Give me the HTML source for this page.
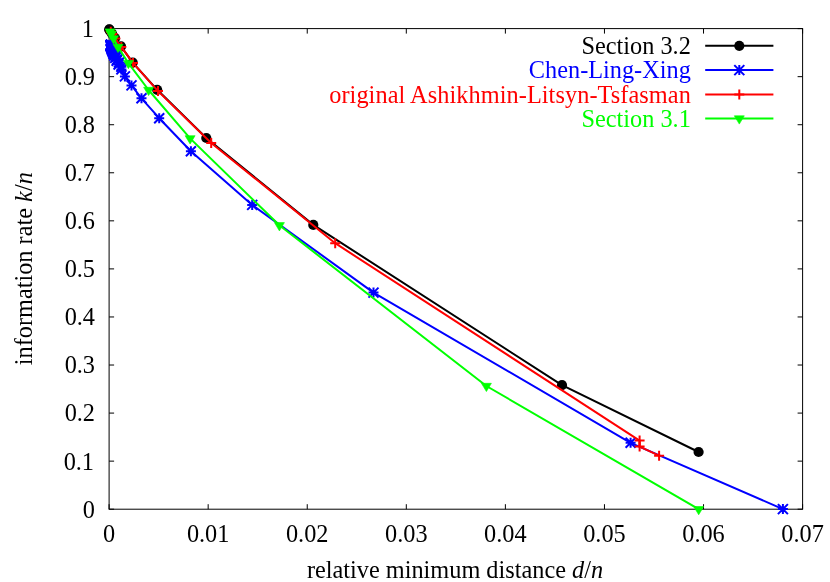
<!DOCTYPE html>
<html><head><meta charset="utf-8"><title>plot</title>
<style>
html,body{margin:0;padding:0;background:#fff;}
svg{display:block;will-change:transform;}
text{font-family:"Liberation Serif",serif;font-size:24.3px;}
</style></head><body>
<svg width="830" height="582" viewBox="0 0 830 582">
<rect x="0" y="0" width="830" height="582" fill="#ffffff"/>
<g stroke="#000" stroke-width="1" fill="none">
<path d="M109.1 509.2v-5M109.1 28.6v5"/>
<path d="M208.17 509.2v-5M208.17 28.6v5"/>
<path d="M307.24 509.2v-5M307.24 28.6v5"/>
<path d="M406.31 509.2v-5M406.31 28.6v5"/>
<path d="M505.39 509.2v-5M505.39 28.6v5"/>
<path d="M604.46 509.2v-5M604.46 28.6v5"/>
<path d="M703.53 509.2v-5M703.53 28.6v5"/>
<path d="M802.6 509.2v-5M802.6 28.6v5"/>
<path d="M109.1 509.2h5M802.6 509.2h-5"/>
<path d="M109.1 461.14h5M802.6 461.14h-5"/>
<path d="M109.1 413.08h5M802.6 413.08h-5"/>
<path d="M109.1 365.02h5M802.6 365.02h-5"/>
<path d="M109.1 316.96h5M802.6 316.96h-5"/>
<path d="M109.1 268.9h5M802.6 268.9h-5"/>
<path d="M109.1 220.84h5M802.6 220.84h-5"/>
<path d="M109.1 172.78h5M802.6 172.78h-5"/>
<path d="M109.1 124.72h5M802.6 124.72h-5"/>
<path d="M109.1 76.66h5M802.6 76.66h-5"/>
<path d="M109.1 28.6h5M802.6 28.6h-5"/>
<rect x="109.1" y="28.6" width="693.5" height="480.6"/>
</g>
<text x="109.1" y="541.6" text-anchor="middle">0</text>
<text x="208.17" y="541.6" text-anchor="middle">0.01</text>
<text x="307.24" y="541.6" text-anchor="middle">0.02</text>
<text x="406.31" y="541.6" text-anchor="middle">0.03</text>
<text x="505.39" y="541.6" text-anchor="middle">0.04</text>
<text x="604.46" y="541.6" text-anchor="middle">0.05</text>
<text x="703.53" y="541.6" text-anchor="middle">0.06</text>
<text x="802.6" y="541.6" text-anchor="middle">0.07</text>
<text x="95" y="517.6" text-anchor="end">0</text>
<text x="94" y="469.54" text-anchor="end">0.1</text>
<text x="95" y="421.48" text-anchor="end">0.2</text>
<text x="95" y="373.42" text-anchor="end">0.3</text>
<text x="95" y="325.36" text-anchor="end">0.4</text>
<text x="95" y="277.3" text-anchor="end">0.5</text>
<text x="95" y="229.24" text-anchor="end">0.6</text>
<text x="95" y="181.18" text-anchor="end">0.7</text>
<text x="95" y="133.12" text-anchor="end">0.8</text>
<text x="95" y="85.06" text-anchor="end">0.9</text>
<text x="94" y="37" text-anchor="end">1</text>
<text x="455" y="577.8" text-anchor="middle">relative minimum distance <tspan font-style="italic">d</tspan>/<tspan font-style="italic">n</tspan></text>
<text transform="translate(32.1,268.7) rotate(-90)" text-anchor="middle">information rate <tspan font-style="italic">k</tspan>/<tspan font-style="italic">n</tspan></text>
<text x="690.8" y="53.9" text-anchor="end" fill="#000000">Section 3.2</text>
<text x="690.8" y="78.2" text-anchor="end" fill="#0000ff">Chen-Ling-Xing</text>
<text x="690.8" y="102.5" text-anchor="end" fill="#ff0000" textLength="361.6" lengthAdjust="spacing">original Ashikhmin-Litsyn-Tsfasman</text>
<text x="690.8" y="126.6" text-anchor="end" fill="#00ff00">Section 3.1</text>
<g>
<path d="M705.2 45.8H773.4" stroke="#000000" stroke-width="2" fill="none"/>
<circle cx="739.3" cy="45.8" r="5.1" fill="#000000"/>
<polyline fill="none" stroke="#000000" stroke-width="2" stroke-linejoin="round" stroke-linecap="butt" points="698.6,452 562,385.1 313.3,224.9 206.3,138 157.2,89.8 132.7,62.6 121,46.4 115.05,38.17 112.07,33.82 110.59,31.51 109.84,30.28 109.47,29.63 109.29,29.29"/>
<circle cx="698.6" cy="452" r="5.1" fill="#000000"/>
<circle cx="562" cy="385.1" r="5.1" fill="#000000"/>
<circle cx="313.3" cy="224.9" r="5.1" fill="#000000"/>
<circle cx="206.3" cy="138" r="5.1" fill="#000000"/>
<circle cx="157.2" cy="89.8" r="5.1" fill="#000000"/>
<circle cx="132.7" cy="62.6" r="5.1" fill="#000000"/>
<circle cx="121" cy="46.4" r="5.1" fill="#000000"/>
<circle cx="115.05" cy="38.17" r="5.1" fill="#000000"/>
<circle cx="112.07" cy="33.82" r="5.1" fill="#000000"/>
<circle cx="110.59" cy="31.51" r="5.1" fill="#000000"/>
<circle cx="109.84" cy="30.28" r="5.1" fill="#000000"/>
<circle cx="109.47" cy="29.63" r="5.1" fill="#000000"/>
<circle cx="109.29" cy="29.29" r="5.1" fill="#000000"/>
</g>
<g>
<path d="M705.2 70.1H773.4" stroke="#0000ff" stroke-width="2" fill="none"/>
<path d="M734.3 70.1h10M739.3 65.1v10M734.3 65.1l10 10M734.3 75.1l10 -10" stroke="#0000ff" stroke-width="2" fill="none"/>
<polyline fill="none" stroke="#0000ff" stroke-width="2" stroke-linejoin="round" stroke-linecap="butt" points="782.9,509.1 630.6,442.8 373.5,292.6 252.2,204.9 190.9,151.2 159.2,118.2 141.5,98.3 131.5,85.4 124.9,76.4 121.41,69.38 121.36,66.73 118.57,64.44 119.01,62.45 116.61,60.72 117.36,59.2 115.23,57.87 116.19,56.69 114.23,55.64 115.34,54.71 113.5,53.88 114.7,53.13 112.94,52.47 114.22,51.86 112.53,51.32 113.86,50.82 112.2,50.38 113.57,49.97 111.95,49.6 113.35,49.26 111.76,48.95 113.17,48.66 111.6,48.4 113.03,48.16 111.47,47.93 112.92,47.73 111.37,47.54 112.82,47.36 111.28,47.2 112.75,47.04 111.22,46.9 112.69,46.77 111.16,46.65 112.63,46.53 111.11,46.42 112.59,46.32 111.07,46.23 112.55,46.14 111.04,46.06 112.52,45.98 111.01,45.9 112.49,45.83 110.98,45.77 110.96,45.65 110.94,45.54 110.93,45.44 110.91,45.36 110.9,45.28 110.89,45.21 110.88,45.15 110.87,45.09 110.87,45.04 110.86,44.99 110.86,44.94 110.85,44.9 110.85,44.87 110.84,44.83"/>
<path d="M777.9 509.1h10M782.9 504.1v10M777.9 504.1l10 10M777.9 514.1l10 -10" stroke="#0000ff" stroke-width="2" fill="none"/>
<path d="M625.6 442.8h10M630.6 437.8v10M625.6 437.8l10 10M625.6 447.8l10 -10" stroke="#0000ff" stroke-width="2" fill="none"/>
<path d="M368.5 292.6h10M373.5 287.6v10M368.5 287.6l10 10M368.5 297.6l10 -10" stroke="#0000ff" stroke-width="2" fill="none"/>
<path d="M247.2 204.9h10M252.2 199.9v10M247.2 199.9l10 10M247.2 209.9l10 -10" stroke="#0000ff" stroke-width="2" fill="none"/>
<path d="M185.9 151.2h10M190.9 146.2v10M185.9 146.2l10 10M185.9 156.2l10 -10" stroke="#0000ff" stroke-width="2" fill="none"/>
<path d="M154.2 118.2h10M159.2 113.2v10M154.2 113.2l10 10M154.2 123.2l10 -10" stroke="#0000ff" stroke-width="2" fill="none"/>
<path d="M136.5 98.3h10M141.5 93.3v10M136.5 93.3l10 10M136.5 103.3l10 -10" stroke="#0000ff" stroke-width="2" fill="none"/>
<path d="M126.5 85.4h10M131.5 80.4v10M126.5 80.4l10 10M126.5 90.4l10 -10" stroke="#0000ff" stroke-width="2" fill="none"/>
<path d="M119.9 76.4h10M124.9 71.4v10M119.9 71.4l10 10M119.9 81.4l10 -10" stroke="#0000ff" stroke-width="2" fill="none"/>
<path d="M116.41 69.38h10M121.41 64.38v10M116.41 64.38l10 10M116.41 74.38l10 -10" stroke="#0000ff" stroke-width="2" fill="none"/>
<path d="M116.36 66.73h10M121.36 61.73v10M116.36 61.73l10 10M116.36 71.73l10 -10" stroke="#0000ff" stroke-width="2" fill="none"/>
<path d="M113.57 64.44h10M118.57 59.44v10M113.57 59.44l10 10M113.57 69.44l10 -10" stroke="#0000ff" stroke-width="2" fill="none"/>
<path d="M114.01 62.45h10M119.01 57.45v10M114.01 57.45l10 10M114.01 67.45l10 -10" stroke="#0000ff" stroke-width="2" fill="none"/>
<path d="M111.61 60.72h10M116.61 55.72v10M111.61 55.72l10 10M111.61 65.72l10 -10" stroke="#0000ff" stroke-width="2" fill="none"/>
<path d="M112.36 59.2h10M117.36 54.2v10M112.36 54.2l10 10M112.36 64.2l10 -10" stroke="#0000ff" stroke-width="2" fill="none"/>
<path d="M110.23 57.87h10M115.23 52.87v10M110.23 52.87l10 10M110.23 62.87l10 -10" stroke="#0000ff" stroke-width="2" fill="none"/>
<path d="M111.19 56.69h10M116.19 51.69v10M111.19 51.69l10 10M111.19 61.69l10 -10" stroke="#0000ff" stroke-width="2" fill="none"/>
<path d="M109.23 55.64h10M114.23 50.64v10M109.23 50.64l10 10M109.23 60.64l10 -10" stroke="#0000ff" stroke-width="2" fill="none"/>
<path d="M110.34 54.71h10M115.34 49.71v10M110.34 49.71l10 10M110.34 59.71l10 -10" stroke="#0000ff" stroke-width="2" fill="none"/>
<path d="M108.5 53.88h10M113.5 48.88v10M108.5 48.88l10 10M108.5 58.88l10 -10" stroke="#0000ff" stroke-width="2" fill="none"/>
<path d="M109.7 53.13h10M114.7 48.13v10M109.7 48.13l10 10M109.7 58.13l10 -10" stroke="#0000ff" stroke-width="2" fill="none"/>
<path d="M107.94 52.47h10M112.94 47.47v10M107.94 47.47l10 10M107.94 57.47l10 -10" stroke="#0000ff" stroke-width="2" fill="none"/>
<path d="M109.22 51.86h10M114.22 46.86v10M109.22 46.86l10 10M109.22 56.86l10 -10" stroke="#0000ff" stroke-width="2" fill="none"/>
<path d="M107.53 51.32h10M112.53 46.32v10M107.53 46.32l10 10M107.53 56.32l10 -10" stroke="#0000ff" stroke-width="2" fill="none"/>
<path d="M108.86 50.82h10M113.86 45.82v10M108.86 45.82l10 10M108.86 55.82l10 -10" stroke="#0000ff" stroke-width="2" fill="none"/>
<path d="M107.2 50.38h10M112.2 45.38v10M107.2 45.38l10 10M107.2 55.38l10 -10" stroke="#0000ff" stroke-width="2" fill="none"/>
<path d="M108.57 49.97h10M113.57 44.97v10M108.57 44.97l10 10M108.57 54.97l10 -10" stroke="#0000ff" stroke-width="2" fill="none"/>
<path d="M106.95 49.6h10M111.95 44.6v10M106.95 44.6l10 10M106.95 54.6l10 -10" stroke="#0000ff" stroke-width="2" fill="none"/>
<path d="M108.35 49.26h10M113.35 44.26v10M108.35 44.26l10 10M108.35 54.26l10 -10" stroke="#0000ff" stroke-width="2" fill="none"/>
<path d="M106.76 48.95h10M111.76 43.95v10M106.76 43.95l10 10M106.76 53.95l10 -10" stroke="#0000ff" stroke-width="2" fill="none"/>
<path d="M108.17 48.66h10M113.17 43.66v10M108.17 43.66l10 10M108.17 53.66l10 -10" stroke="#0000ff" stroke-width="2" fill="none"/>
<path d="M106.6 48.4h10M111.6 43.4v10M106.6 43.4l10 10M106.6 53.4l10 -10" stroke="#0000ff" stroke-width="2" fill="none"/>
<path d="M108.03 48.16h10M113.03 43.16v10M108.03 43.16l10 10M108.03 53.16l10 -10" stroke="#0000ff" stroke-width="2" fill="none"/>
<path d="M106.47 47.93h10M111.47 42.93v10M106.47 42.93l10 10M106.47 52.93l10 -10" stroke="#0000ff" stroke-width="2" fill="none"/>
<path d="M107.92 47.73h10M112.92 42.73v10M107.92 42.73l10 10M107.92 52.73l10 -10" stroke="#0000ff" stroke-width="2" fill="none"/>
<path d="M106.37 47.54h10M111.37 42.54v10M106.37 42.54l10 10M106.37 52.54l10 -10" stroke="#0000ff" stroke-width="2" fill="none"/>
<path d="M107.82 47.36h10M112.82 42.36v10M107.82 42.36l10 10M107.82 52.36l10 -10" stroke="#0000ff" stroke-width="2" fill="none"/>
<path d="M106.28 47.2h10M111.28 42.2v10M106.28 42.2l10 10M106.28 52.2l10 -10" stroke="#0000ff" stroke-width="2" fill="none"/>
<path d="M107.75 47.04h10M112.75 42.04v10M107.75 42.04l10 10M107.75 52.04l10 -10" stroke="#0000ff" stroke-width="2" fill="none"/>
<path d="M106.22 46.9h10M111.22 41.9v10M106.22 41.9l10 10M106.22 51.9l10 -10" stroke="#0000ff" stroke-width="2" fill="none"/>
<path d="M107.69 46.77h10M112.69 41.77v10M107.69 41.77l10 10M107.69 51.77l10 -10" stroke="#0000ff" stroke-width="2" fill="none"/>
<path d="M106.16 46.65h10M111.16 41.65v10M106.16 41.65l10 10M106.16 51.65l10 -10" stroke="#0000ff" stroke-width="2" fill="none"/>
<path d="M107.63 46.53h10M112.63 41.53v10M107.63 41.53l10 10M107.63 51.53l10 -10" stroke="#0000ff" stroke-width="2" fill="none"/>
<path d="M106.11 46.42h10M111.11 41.42v10M106.11 41.42l10 10M106.11 51.42l10 -10" stroke="#0000ff" stroke-width="2" fill="none"/>
<path d="M107.59 46.32h10M112.59 41.32v10M107.59 41.32l10 10M107.59 51.32l10 -10" stroke="#0000ff" stroke-width="2" fill="none"/>
<path d="M106.07 46.23h10M111.07 41.23v10M106.07 41.23l10 10M106.07 51.23l10 -10" stroke="#0000ff" stroke-width="2" fill="none"/>
<path d="M107.55 46.14h10M112.55 41.14v10M107.55 41.14l10 10M107.55 51.14l10 -10" stroke="#0000ff" stroke-width="2" fill="none"/>
<path d="M106.04 46.06h10M111.04 41.06v10M106.04 41.06l10 10M106.04 51.06l10 -10" stroke="#0000ff" stroke-width="2" fill="none"/>
<path d="M107.52 45.98h10M112.52 40.98v10M107.52 40.98l10 10M107.52 50.98l10 -10" stroke="#0000ff" stroke-width="2" fill="none"/>
<path d="M106.01 45.9h10M111.01 40.9v10M106.01 40.9l10 10M106.01 50.9l10 -10" stroke="#0000ff" stroke-width="2" fill="none"/>
<path d="M107.49 45.83h10M112.49 40.83v10M107.49 40.83l10 10M107.49 50.83l10 -10" stroke="#0000ff" stroke-width="2" fill="none"/>
<path d="M105.98 45.77h10M110.98 40.77v10M105.98 40.77l10 10M105.98 50.77l10 -10" stroke="#0000ff" stroke-width="2" fill="none"/>
<path d="M105.96 45.65h10M110.96 40.65v10M105.96 40.65l10 10M105.96 50.65l10 -10" stroke="#0000ff" stroke-width="2" fill="none"/>
<path d="M105.94 45.54h10M110.94 40.54v10M105.94 40.54l10 10M105.94 50.54l10 -10" stroke="#0000ff" stroke-width="2" fill="none"/>
<path d="M105.93 45.44h10M110.93 40.44v10M105.93 40.44l10 10M105.93 50.44l10 -10" stroke="#0000ff" stroke-width="2" fill="none"/>
<path d="M105.91 45.36h10M110.91 40.36v10M105.91 40.36l10 10M105.91 50.36l10 -10" stroke="#0000ff" stroke-width="2" fill="none"/>
<path d="M105.9 45.28h10M110.9 40.28v10M105.9 40.28l10 10M105.9 50.28l10 -10" stroke="#0000ff" stroke-width="2" fill="none"/>
<path d="M105.89 45.21h10M110.89 40.21v10M105.89 40.21l10 10M105.89 50.21l10 -10" stroke="#0000ff" stroke-width="2" fill="none"/>
<path d="M105.88 45.15h10M110.88 40.15v10M105.88 40.15l10 10M105.88 50.15l10 -10" stroke="#0000ff" stroke-width="2" fill="none"/>
<path d="M105.87 45.09h10M110.87 40.09v10M105.87 40.09l10 10M105.87 50.09l10 -10" stroke="#0000ff" stroke-width="2" fill="none"/>
<path d="M105.87 45.04h10M110.87 40.04v10M105.87 40.04l10 10M105.87 50.04l10 -10" stroke="#0000ff" stroke-width="2" fill="none"/>
<path d="M105.86 44.99h10M110.86 39.99v10M105.86 39.99l10 10M105.86 49.99l10 -10" stroke="#0000ff" stroke-width="2" fill="none"/>
<path d="M105.86 44.94h10M110.86 39.94v10M105.86 39.94l10 10M105.86 49.94l10 -10" stroke="#0000ff" stroke-width="2" fill="none"/>
<path d="M105.85 44.9h10M110.85 39.9v10M105.85 39.9l10 10M105.85 49.9l10 -10" stroke="#0000ff" stroke-width="2" fill="none"/>
<path d="M105.85 44.87h10M110.85 39.87v10M105.85 39.87l10 10M105.85 49.87l10 -10" stroke="#0000ff" stroke-width="2" fill="none"/>
<path d="M105.84 44.83h10M110.84 39.83v10M105.84 39.83l10 10M105.84 49.83l10 -10" stroke="#0000ff" stroke-width="2" fill="none"/>
</g>
<g>
<path d="M705.2 94.4H773.4" stroke="#ff0000" stroke-width="2" fill="none"/>
<path d="M734.3 94.4h10M739.3 89.4v10" stroke="#ff0000" stroke-width="2" fill="none"/>
<polyline fill="none" stroke="#ff0000" stroke-width="2" stroke-linejoin="round" stroke-linecap="butt" points="659.1,455.7 639.6,446.6 639.6,440.6 335.2,243.2 211.2,143 158,91.1 133,62.9 121.3,46.9 115.3,38.49 112.3,34.03 110.8,31.66"/>
<path d="M654.1 455.7h10M659.1 450.7v10" stroke="#ff0000" stroke-width="2" fill="none"/>
<path d="M634.6 446.6h10M639.6 441.6v10" stroke="#ff0000" stroke-width="2" fill="none"/>
<path d="M634.6 440.6h10M639.6 435.6v10" stroke="#ff0000" stroke-width="2" fill="none"/>
<path d="M330.2 243.2h10M335.2 238.2v10" stroke="#ff0000" stroke-width="2" fill="none"/>
<path d="M206.2 143h10M211.2 138v10" stroke="#ff0000" stroke-width="2" fill="none"/>
<path d="M153 91.1h10M158 86.1v10" stroke="#ff0000" stroke-width="2" fill="none"/>
<path d="M128 62.9h10M133 57.9v10" stroke="#ff0000" stroke-width="2" fill="none"/>
<path d="M116.3 46.9h10M121.3 41.9v10" stroke="#ff0000" stroke-width="2" fill="none"/>
<path d="M110.3 38.49h10M115.3 33.49v10" stroke="#ff0000" stroke-width="2" fill="none"/>
<path d="M107.3 34.03h10M112.3 29.03v10" stroke="#ff0000" stroke-width="2" fill="none"/>
<path d="M105.8 31.66h10M110.8 26.66v10" stroke="#ff0000" stroke-width="2" fill="none"/>
</g>
<g>
<path d="M705.2 118.5H773.4" stroke="#00ff00" stroke-width="2" fill="none"/>
<path d="M734.3 115.8L744.3 115.8L739.3 124.1Z" fill="#00ff00" stroke="#00ff00" stroke-width="0.6"/>
<polyline fill="none" stroke="#00ff00" stroke-width="2" stroke-linejoin="round" stroke-linecap="butt" points="698.7,509.2 486.4,386 279.4,225.3 190.1,138.4 148.6,90 128.4,63.1 118,47 113.5,38.49 111.25,33.98 110.12,31.59"/>
<path d="M693.7 506.5L703.7 506.5L698.7 514.8Z" fill="#00ff00" stroke="#00ff00" stroke-width="0.6"/>
<path d="M481.4 383.3L491.4 383.3L486.4 391.6Z" fill="#00ff00" stroke="#00ff00" stroke-width="0.6"/>
<path d="M274.4 222.6L284.4 222.6L279.4 230.9Z" fill="#00ff00" stroke="#00ff00" stroke-width="0.6"/>
<path d="M185.1 135.7L195.1 135.7L190.1 144Z" fill="#00ff00" stroke="#00ff00" stroke-width="0.6"/>
<path d="M143.6 87.3L153.6 87.3L148.6 95.6Z" fill="#00ff00" stroke="#00ff00" stroke-width="0.6"/>
<path d="M123.4 60.4L133.4 60.4L128.4 68.7Z" fill="#00ff00" stroke="#00ff00" stroke-width="0.6"/>
<path d="M113 44.3L123 44.3L118 52.6Z" fill="#00ff00" stroke="#00ff00" stroke-width="0.6"/>
<path d="M108.5 35.79L118.5 35.79L113.5 44.09Z" fill="#00ff00" stroke="#00ff00" stroke-width="0.6"/>
<path d="M106.25 31.28L116.25 31.28L111.25 39.58Z" fill="#00ff00" stroke="#00ff00" stroke-width="0.6"/>
<path d="M105.12 28.89L115.12 28.89L110.12 37.19Z" fill="#00ff00" stroke="#00ff00" stroke-width="0.6"/>
</g>
</svg></body></html>
